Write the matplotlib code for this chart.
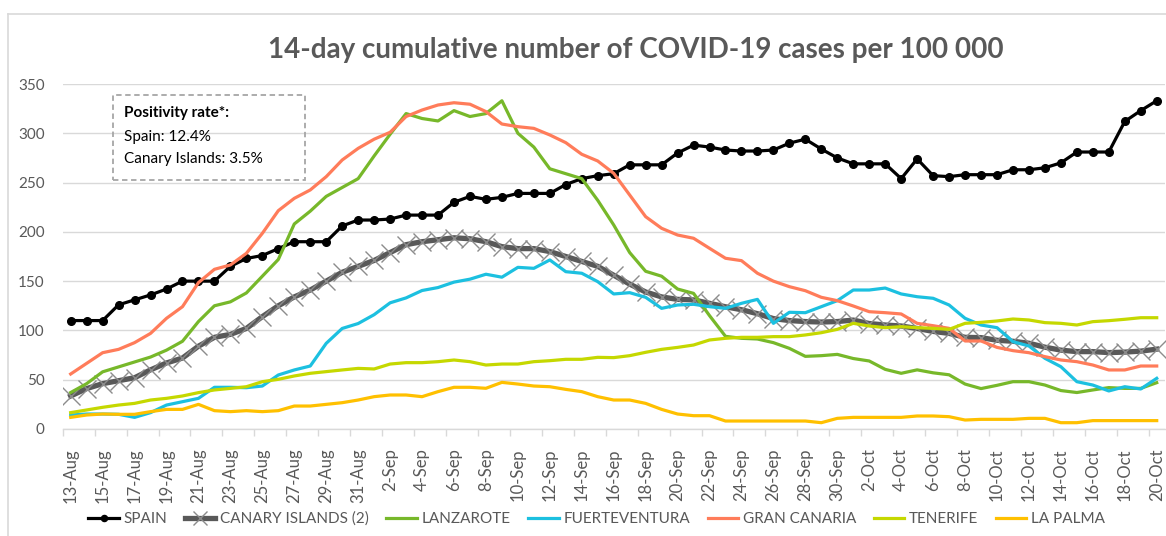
import matplotlib
matplotlib.use("Agg")
import matplotlib.pyplot as plt
import numpy as np
import pandas as pd
from matplotlib.lines import Line2D
from matplotlib.patches import Rectangle

plt.rcParams['font.family'] = ['Lato', 'DejaVu Sans']

TEXT_COLOR = '#595959'
GRID_COLOR = '#D9D9D9'

dates = pd.date_range('2020-08-13', '2020-10-20', freq='D')
date_labels = ['{}-{}'.format(d.day, d.strftime('%b')) for d in dates]

spain = [110, 110, 110, 126, 131, 136, 142, 150, 150, 150, 165, 173, 176, 183, 190, 190, 190, 206, 212,
         212, 213, 217, 217, 217, 230, 236, 233, 235, 239, 239, 239, 248, 254, 257, 259, 268, 268, 268, 280,
         288, 286, 283, 282, 282, 283, 290, 294, 284, 275,
         269, 269, 269, 254, 274, 257, 256, 258, 258, 258, 263, 263, 265, 270, 281, 281, 281, 312, 323, 333]
canary = [33.5, 41, 46, 49, 52, 60, 67, 72, 84, 93, 96, 102, 114, 125, 134, 141, 150, 159, 165,
          171, 179, 187, 190, 192, 194, 193, 190, 185, 183, 183, 180, 175, 170, 165, 156, 147, 139, 134, 131.5,
          131, 127.5, 124, 121, 117, 112, 110, 109, 108.5, 109,
          110.5, 107, 105.5, 104.5, 102, 99, 97, 93, 92.7, 90, 89, 87, 83, 80, 78.5, 78.5, 77.5, 78, 79, 81]
lanzarote = [37, 46, 58, 63, 68, 73, 80, 89, 109, 125, 129, 138, 155, 172, 208, 221, 236, 245, 254,
             277, 299, 320, 315, 312.5, 323, 317, 320, 333, 300, 286, 264, 259, 254, 232, 207, 179, 160, 155, 142,
             137.6, 115, 94, 92, 91.3, 87.6, 81.8, 73.7, 74.4, 75.7,
             71.5, 69, 60.5, 56.5, 60, 57, 55, 45.6, 41, 44.3, 48, 48, 44.6, 39, 37, 39.6, 42, 41.2, 41.2, 47]
fuerteventura = [14.2, 15.2, 15.2, 14.9, 11.8, 16.6, 24.3, 27.7, 31.1, 42.3, 42.3, 41.9, 43.6, 54.8, 59.9, 63.9,
                 86.9, 102, 107,
                 116, 128, 133, 140.5, 143.5, 149, 152, 157, 154, 164, 163, 171.5, 159.6, 158, 149.5, 137, 138.3,
                 133.6, 122.4, 125.8, 126.5, 124.1, 122.4, 127.5, 131.5, 107.2, 118.4, 118, 124.1, 130.2,
                 141, 141, 143, 137, 134.2, 132.6, 125.8, 112.3, 105.5, 102.8, 88.6, 84.2, 71.7, 63.2, 48, 44.6,
                 38.6, 42.9, 40.6, 51.4]
gran_canaria = [55.8, 66.6, 77.4, 80.8, 87.6, 97, 112.3, 124.1, 148.5, 162, 166.4, 178.2, 198.5, 221.5, 234, 242.5,
                256, 272.9, 284.7,
                294, 301, 317, 323.6, 328.7, 331, 329.5, 322, 309.4, 306.7, 305, 298.3, 290.5, 278.7, 271.9, 259.4,
                237.4, 215.4, 203.6, 196.8, 193.5, 183.3, 173.2, 170.8, 158, 150, 144.4, 140.3, 133.6, 130.2,
                124.8, 119, 118, 116.7, 107.2, 104.8, 102.1, 89.3, 89.3, 82.8, 79.5, 77.4, 73.4, 70, 68.3, 64.9,
                59.9, 59.9, 63.9, 63.9]
tenerife = [16.6, 19.3, 22, 24.3, 26, 29.4, 31.1, 33.5, 36.9, 39.6, 41.2, 42.9, 48, 50.4, 53.8, 56.5, 58.2, 59.9, 61.5,
            60.9, 65.9, 67.3, 67.3, 68.3, 70, 68.3, 64.9, 65.9, 65.9, 68.3, 69.3, 70.7, 70.7, 72.7, 72.4, 74.4, 77.8,
            80.8, 82.8, 85.2, 90.3, 92, 93, 93, 93.7, 93.7, 95.4, 97.7, 101.1,
            107.2, 104.5, 102.8, 103.8, 102.8, 102.1, 101.1, 107.2, 108.2, 109.6, 111.6, 110.6, 107.9, 107.2, 105.5,
            108.9, 109.9, 111.3, 112.9, 112.9]
la_palma = [11.8, 14.2, 15.2, 14.9, 14.9, 17.6, 19.9, 19.9, 25, 18.6, 17.6, 18.6, 17.6, 18.6, 23.3, 23.3, 25, 26.7, 29.4,
            32.8, 34.5, 34.5, 32.8, 37.9, 42.3, 42.3, 41.3, 47.3, 45.6, 43.6, 42.9, 40.2, 37.9, 32.8, 29.4, 29.4, 26,
            19.9, 15.2, 13.5, 13.5, 8.1, 8.1, 8.1, 8.1, 8.1, 8.1, 6.4, 10.8,
            11.8, 11.8, 11.8, 11.8, 13.2, 13.2, 12.5, 9.1, 9.8, 9.8, 9.8, 10.8, 10.8, 6.4, 6.4, 8.5, 8.5, 8.5, 8.5, 8.5]

islands = [
    ('LANZAROTE', lanzarote, '#77B82A'),
    ('FUERTEVENTURA', fuerteventura, '#1CC0E0'),
    ('GRAN CANARIA', gran_canaria, '#FF7C5A'),
    ('TENERIFE', tenerife, '#C5D800'),
    ('LA PALMA', la_palma, '#FFC000'),
]

fig = plt.figure(figsize=(11.66, 5.36), dpi=100)
ax = fig.add_axes([62.7 / 1166, 1 - 429 / 536, 1102 / 1166, 345 / 536])

x = np.arange(len(dates))
handles = []
h, = ax.plot(x, spain, color='black', lw=2.3, marker='o', markersize=5.5, label='SPAIN', zorder=3)
handles.append(h)
h, = ax.plot(x, canary, color='#595959', lw=3.8, label='CANARY ISLANDS (2)', zorder=4,
             marker='x', markersize=13, markeredgecolor='#8C8C8C', markeredgewidth=1.0)
handles.append(h)
for i, (name, values, color) in enumerate(islands):
    h, = ax.plot(x, values, color=color, lw=2.3, label=name, zorder=5 + i)
    handles.append(h)

ax.set_xlim(-0.5, len(dates) - 0.5)
ax.set_ylim(0, 350)
ax.set_yticks(np.arange(0, 351, 50))
ax.yaxis.grid(True, color=GRID_COLOR, lw=1.0)
ax.set_axisbelow(True)
ax.tick_params(axis='y', length=0, pad=13, labelsize=11, labelcolor=TEXT_COLOR)

# tick marks between categories, labels on every second category
ax.set_xticks(np.arange(-0.5, len(dates) - 0.5, 2))
ax.set_xticklabels([])
ax.set_xticks(x[::2], minor=True)
ax.set_xticklabels(date_labels[::2], minor=True, rotation=90, va='top', ha='center')
ax.tick_params(axis='x', which='major', length=5, color=GRID_COLOR, width=1)
ax.tick_params(axis='x', which='minor', length=0, pad=14, labelsize=12, labelcolor=TEXT_COLOR)

for side in ['top', 'right', 'left']:
    ax.spines[side].set_visible(False)
ax.spines['bottom'].set_color(GRID_COLOR)
ax.spines['bottom'].set_linewidth(1)

fig.text(636 / 1166, 1 - 50 / 536, '14-day cumulative number of COVID-19 cases per 100 000',
         ha='center', va='center', fontsize=20, fontweight='bold', color=TEXT_COLOR)

# positivity box
fig.patches.append(Rectangle((113 / 1166, 1 - 180 / 536), 192 / 1166, 85 / 536, transform=fig.transFigure,
                             fill=False, edgecolor='#A6A6A6', lw=1.3, linestyle=(0, (3, 2))))
fig.text(124 / 1166, 1 - 113 / 536, 'Positivity rate*:', fontsize=11, fontweight='bold', va='center')
fig.text(124 / 1166, 1 - 137 / 536, 'Spain: 12.4%', fontsize=11, va='center')
fig.text(124 / 1166, 1 - 159 / 536, 'Canary Islands: 3.5%', fontsize=11, va='center')

# chart-area border
fig.add_artist(Line2D([8 / 1166, 8 / 1166], [0, 1 - 14 / 536], color=GRID_COLOR, lw=1.2, transform=fig.transFigure))
fig.add_artist(Line2D([8 / 1166, 1], [1 - 14 / 536, 1 - 14 / 536], color=GRID_COLOR, lw=1.2,
                      transform=fig.transFigure))

leg = fig.legend(handles=handles, loc='center', bbox_to_anchor=(0.5116, 1 - 519 / 536), ncol=7, frameon=False,
                 fontsize=11, handlelength=2.0, handletextpad=0.3, columnspacing=1.15, labelcolor=TEXT_COLOR)
for line in leg.get_lines():
    line.set_markersize(line.get_markersize() * 0.8)

fig.savefig('out.png', dpi=100)
